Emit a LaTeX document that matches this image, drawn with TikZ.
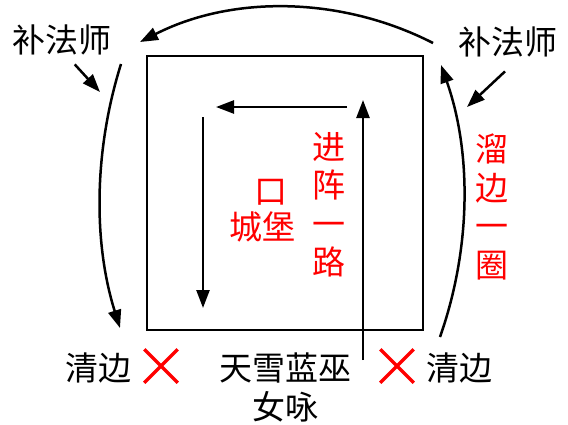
\documentclass[tikz,border=0pt]{standalone}
\usepackage{fontspec}
\setmainfont{Noto Sans CJK SC}
\usetikzlibrary{arrows.meta,shapes.misc}

\begin{document}
\begin{tikzpicture}[x=1pt, y=-1pt, line width=2.5pt, line cap=butt,
  tip/.style={-{Triangle[length=18pt,width=13pt]}},
  blacklbl/.style={anchor=center,inner sep=0pt,font=\fontsize{33}{39}\selectfont},
  redlbl/.style={anchor=center,inner sep=0pt,text=red,align=center,font=\fontsize{33}{38.5}\selectfont},
  redcross/.style={cross out,draw=red,line width=3.5pt,minimum size=30pt,inner sep=0pt}]

  %% ════ 方框 ════
  \draw (147,56) rectangle (423,330);

  %% ════ 端点 ════
  \coordinate (inStart) at (363,360);
  \coordinate (inTop)   at (363,100);
  \coordinate (rowEnd)  at (347,107);
  \coordinate (rowTip)  at (216,107);
  \coordinate (colTop)  at (203,117);
  \coordinate (colTip)  at (203,308);
  \coordinate (arcR)    at (433,43);
  \coordinate (arcL)    at (140,42);
  \coordinate (leftTop) at (121,64);
  \coordinate (leftBot) at (120,328);
  \coordinate (rightBot) at (440,337);
  \coordinate (rightTop) at (441,65);

  %% ════ 标签 ════
  \node[blacklbl] (magesL) at (62,40) {补法师};
  \node[blacklbl] (magesR) at (508,42) {补法师};
  \node[blacklbl] (edgeL)  at (98,368) {清边};
  \node[blacklbl] (edgeR)  at (459,368) {清边};
  \node[blacklbl,align=center] (hero) at (285,387) {天雪蓝巫\\女咏};
  \node[redcross] (crossL) at (161,366) {};
  \node[redcross] (crossR) at (397,366) {};
  \node[redlbl] (push)   at (329,205) {进\\阵\\一\\路};
  \node[redlbl] (circle) at (492,207) {溜\\边\\一\\圈};
  \node[redlbl] (castleTop) at (271,192) {口};
  \node[redlbl] (castle)    at (262,227) {城堡};

  \coordinate (pointL) at (100,92);
  \coordinate (pointR) at (467,107);

  %% ════ 箭头 ════
  \draw[tip] (inStart) -- (inTop);
  \draw[tip] (rowEnd) -- (rowTip);
  \draw[tip] (colTop) -- (colTip);
  \draw[tip] (arcR) .. controls (341,-4) and (232,-5) .. (arcL);
  \draw[tip] (leftTop) .. controls (94,150) and (93,242) .. (leftBot);
  \draw[tip] (rightBot) .. controls (471,249) and (472,153) .. (rightTop);
  \draw[tip] (magesL.south east) ++(-38,8) -- (pointL);
  \draw[tip] (magesR.south) ++(-3,13) -- (pointR);

  % 钉死画布
  \pgfresetboundingbox
  \path[use as bounding box] (0,0) rectangle (568,424);
\end{tikzpicture}
\end{document}
